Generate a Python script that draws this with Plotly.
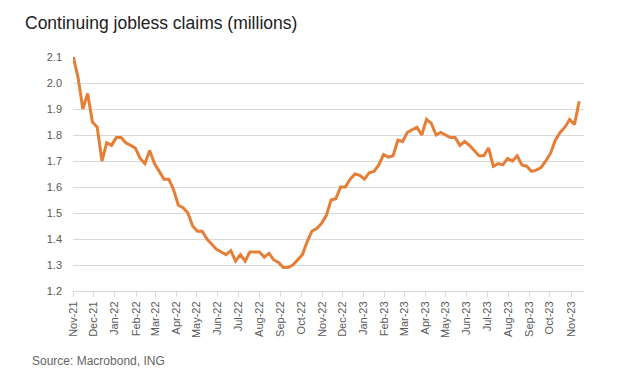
import pandas as pd
import plotly.graph_objects as go

# Weekly continuing jobless claims (millions)
start_week = "2021-11-01"
claims = [
    2.10, 2.02, 1.90, 1.96, 1.85, 1.83, 1.70, 1.77, 1.76, 1.79,
    1.79, 1.77, 1.76, 1.75, 1.71, 1.69, 1.74, 1.69, 1.66, 1.63,
    1.63, 1.59, 1.53, 1.52, 1.50, 1.45, 1.43, 1.43, 1.40, 1.38,
    1.36, 1.35, 1.34, 1.355, 1.315, 1.34, 1.315, 1.35, 1.35, 1.35,
    1.33, 1.345, 1.32, 1.31, 1.29, 1.29, 1.30, 1.32, 1.34, 1.39,
    1.43, 1.44, 1.46, 1.49, 1.55, 1.555, 1.60, 1.60, 1.63, 1.65,
    1.645, 1.63, 1.655, 1.66, 1.685, 1.725, 1.715, 1.72, 1.78, 1.775,
    1.81, 1.82, 1.83, 1.80, 1.86, 1.845, 1.80, 1.81, 1.80, 1.79,
    1.79, 1.76, 1.775, 1.76, 1.74, 1.72, 1.72, 1.75, 1.68, 1.69,
    1.685, 1.71, 1.70, 1.72, 1.685, 1.68, 1.66, 1.665, 1.675, 1.70,
    1.73, 1.78, 1.81, 1.83, 1.86, 1.84, 1.93,
]
weeks = pd.date_range(start=start_week, periods=len(claims), freq="7D")

y_ticks = [1.2, 1.3, 1.4, 1.5, 1.6, 1.7, 1.8, 1.9, 2.0, 2.1]
y_tick_labels = ["1.2", "1.3", "1.4", "1.5", "1.6", "1.7", "1.8", "1.9", "2.0", "2.1"]

title_text = "Continuing jobless claims (millions)"
source_text = "Source: Macrobond, ING"

W, H = 627, 371
OFF = 8  # page body margin offset
L, T, R, B = 73 - OFF, 57 - OFF, W - (584 - OFF), H - (291 - OFF)
PW, PH = W - L - R, H - T - B

fig = go.Figure()
fig.add_trace(go.Scatter(
    x=weeks, y=claims, mode="lines",
    line=dict(color="#E57F37", width=3),
    hoverinfo="x+y",
    showlegend=False,
))

fig.update_layout(
    width=W, height=H,
    margin=dict(l=L, r=R, t=T, b=B),
    paper_bgcolor="white", plot_bgcolor="white",
    font=dict(family="Liberation Sans, Arial, sans-serif", color="#595959"),
    title=dict(text=title_text, x=(25 - OFF) / W, xref="container", xanchor="left",
               y=1 - (23 - OFF) / H, yref="container", yanchor="middle",
               font=dict(size=17.5, color="#222222",
                         family="Liberation Sans, Arial, sans-serif"),
               pad=dict(l=0, r=0, t=0, b=0)),
    xaxis=dict(
        type="date",
        range=["2021-10-31 12:00", "2023-11-20"],
        tick0="2021-11-01", dtick="M1", tickformat="%b-%y",
        tickangle=-90,
        tickfont=dict(size=11, color="#595959"),
        ticks="outside", ticklen=5, tickcolor="#d9d9d9",
        showgrid=False, showline=True, linecolor="#d9d9d9", linewidth=1,
        zeroline=False,
    ),
    yaxis=dict(
        range=[1.2, 2.1],
        tickvals=y_ticks, ticktext=y_tick_labels,
        tickfont=dict(size=11, color="#595959"),
        showgrid=True, gridcolor="#d9d9d9", gridwidth=1,
        showline=False, zeroline=False, ticks="",
        ticklabelstandoff=10,
    ),
)

fig.add_annotation(
    text=source_text, xref="paper", yref="paper",
    x=(30 - 73) / PW, y=-(361 - 291) / PH,
    xanchor="left", yanchor="middle", showarrow=False,
    font=dict(size=12, color="#666666", family="Liberation Sans, Arial, sans-serif"),
)

fig.write_html("out.html")
